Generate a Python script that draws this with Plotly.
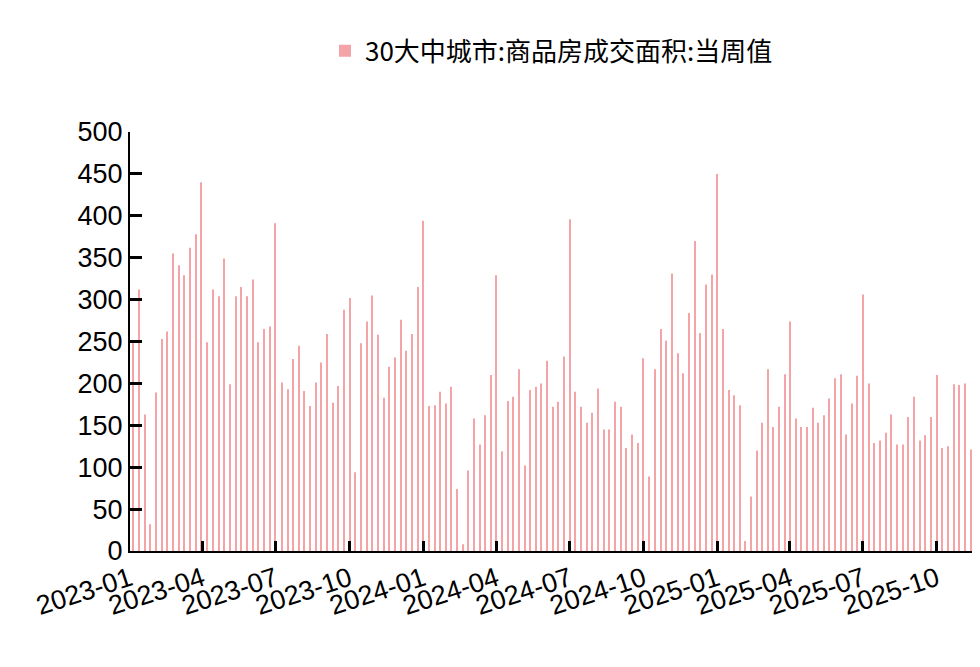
import pandas as pd
from plotly import graph_objects as go

# 30大中城市商品房成交面积 当周值 (万平方米)，按图读数，按季度尖峰分段
seg1 = [248, 312, 163, 32, 189, 253, 262, 355, 341, 329, 362, 378, 440, 249, 312, 304, 349, 199, 304, 315, 304, 324, 249, 265, 268, 391]
seg2 = [201, 193, 229, 245, 191, 173, 201, 225, 259, 177, 197, 288, 302, 94, 248, 274, 305, 258, 183, 220, 231, 276, 239, 259, 315, 394]
seg3 = [173, 174, 190, 176, 196, 74, 8, 96, 158, 127, 162, 210, 329, 119, 179, 184, 217, 102, 192, 196, 200, 227, 172, 178, 232, 396]
seg4 = [190, 172, 153, 165, 194, 145, 145, 178, 172, 123, 139, 129, 230, 89, 217, 265, 251, 331, 236, 212, 284, 370, 260, 318, 330, 450]
seg5 = [265, 192, 186, 174, 12, 65, 120, 153, 217, 148, 172, 211, 274, 158, 148, 148, 171, 153, 162, 182, 206, 211, 139, 176, 209, 306]
seg6 = [200, 129, 132, 141, 163, 127, 127, 160, 184, 132, 138, 160, 210, 123, 125, 199, 198, 200, 121]

# 每段首尾日期 (尖峰落在季度刻度上)
seg_dates = [
    ("2023-01-05", "2023-07-01"),
    ("2023-07-09", "2024-01-01"),
    ("2024-01-08", "2024-07-01"),
    ("2024-07-08", "2025-01-01"),
    ("2025-01-08", "2025-07-01"),
    ("2025-07-08", "2025-11-12"),
]
series_name = "30大中城市:商品房成交面积:当周值"
y_ticks = [0, 50, 100, 150, 200, 250, 300, 350, 400, 450, 500]

values = []
dates = []
for seg, (d0, d1) in zip([seg1, seg2, seg3, seg4, seg5, seg6], seg_dates):
    values += seg
    dates += list(pd.date_range(d0, d1, periods=len(seg)))

fig = go.Figure()
fig.add_trace(go.Bar(
    x=dates,
    y=values,
    name=series_name,
    marker=dict(color="#F4A3A6", line=dict(width=0)),
    width=86400000 * 1.3,
    showlegend=True,
))

font_main = "Liberation Sans, Arial, Noto Sans CJK SC"
fig.update_layout(
    width=980, height=667,
    paper_bgcolor="white", plot_bgcolor="white",
    margin=dict(l=122, r=15, t=124, b=124),
    font=dict(family=font_main, size=27, color="black"),
    showlegend=True,
    legend=dict(orientation="h", x=0.5, xanchor="center", y=1.25, yanchor="top",
                font=dict(family="Noto Sans CJK SC, Liberation Sans", size=26)),
    bargap=0.8,
)
fig.update_xaxes(
    range=["2023-01-01", "2025-11-15"],
    tickformat="%Y-%m", dtick="M3", tick0="2023-01-01",
    tickangle=-18, ticks="inside", ticklen=10, tickwidth=3, tickcolor="black",
    showline=True, linecolor="black", linewidth=2, showgrid=False,
    tickfont=dict(size=27), automargin=False,
)
fig.update_yaxes(
    range=[0, 500], tickvals=y_ticks,
    ticks="inside", ticklen=12, tickwidth=3, tickcolor="black",
    showline=True, linecolor="black", linewidth=2, showgrid=False, zeroline=False,
    tickfont=dict(size=27), automargin=False,
)

fig.write_html("out.html")
